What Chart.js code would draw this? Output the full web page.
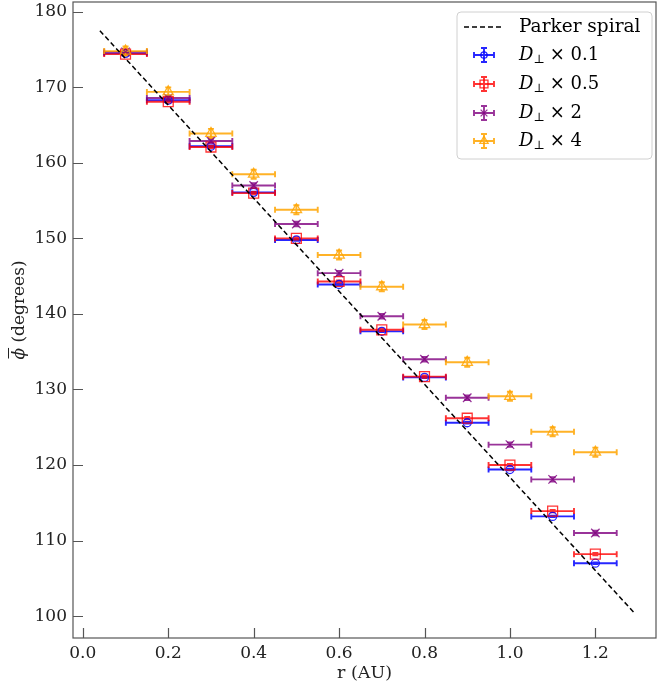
<!DOCTYPE html>
<html>
<head>
<meta charset="utf-8">
<script src="https://cdn.jsdelivr.net/npm/chart.js@4.4.1/dist/chart.umd.min.js"></script>
<style>
  html, body { margin: 0; padding: 0; background: #fff; }
  #wrap { width: 657px; height: 687px; }
</style>
</head>
<body>
<div id="wrap"><canvas id="phi-vs-r"></canvas></div>
<script>
// heliocentric distance of each sample (AU)
const radii = [0.1, 0.2, 0.3, 0.4, 0.5, 0.6, 0.7, 0.8, 0.9, 1.0, 1.1, 1.2]
const rErr = [0.05, 0.05, 0.05, 0.05, 0.05, 0.05, 0.05, 0.05, 0.05, 0.05, 0.05, 0.05]

// mean longitude (degrees) and its spread for each diffusion factor
const phiD01 = [174.5, 168.3, 162.2, 156.1, 149.8, 143.9, 137.7, 131.6, 125.6, 119.4, 113.2, 107.0]
const errD01 = [0.1, 0.1, 0.1, 0.1, 0.1, 0.1, 0.1, 0.1, 0.1, 0.1, 0.1, 0.1]
const phiD05 = [174.4, 168.1, 162.1, 156.0, 150.0, 144.3, 137.9, 131.7, 126.2, 120.0, 113.9, 108.2]
const errD05 = [0.15, 0.15, 0.15, 0.15, 0.15, 0.15, 0.15, 0.15, 0.15, 0.15, 0.15, 0.15]
const phiD2 = [174.7, 168.6, 162.9, 157.0, 151.9, 145.4, 139.7, 134.0, 128.9, 122.7, 118.1, 111.0]
const errD2 = [0.3, 0.3, 0.3, 0.3, 0.3, 0.3, 0.3, 0.3, 0.3, 0.3, 0.3, 0.3]
const phiD4 = [174.8, 169.4, 163.9, 158.5, 153.8, 147.8, 143.6, 138.6, 133.6, 129.1, 124.4, 121.7]
const errD4 = [0.6, 0.6, 0.6, 0.6, 0.6, 0.6, 0.6, 0.6, 0.6, 0.6, 0.6, 0.6]

// Parker spiral reference line
const parkerR = [0.04, 1.29]
const parkerPhi = [177.5, 100.5]

const xTicks = [0.0, 0.2, 0.4, 0.6, 0.8, 1.0, 1.2]
const yTicks = [100, 110, 120, 130, 140, 150, 160, 170, 180]

const SERIF = '"DejaVu Serif", "Liberation Serif", serif'

const series = [
  { name: '0.1', phi: phiD01, err: errD01, color: 'rgba(0,0,255,0.85)', style: 'circle', radius: 4 },
  { name: '0.5', phi: phiD05, err: errD05, color: 'rgba(255,0,0,0.8)', style: 'rect', radius: 7 },
  { name: '2', phi: phiD2, err: errD2, color: 'rgba(128,0,128,0.8)', style: 'crossRot', radius: 6 },
  { name: '4', phi: phiD4, err: errD4, color: 'rgba(255,165,0,0.85)', style: 'triangle', radius: 6 },
]

const toPoints = (xs, ys) => xs.map((x, i) => ({ x, y: ys[i] }))

const datasets = [
  {
    type: 'line',
    label: 'Parker spiral',
    data: toPoints(parkerR, parkerPhi),
    borderColor: '#000',
    borderWidth: 1.5,
    borderDash: [5, 3],
    pointRadius: 0,
    order: 0,
  },
  ...series.map((s, k) => ({
    type: 'scatter',
    label: 'D × ' + s.name,
    data: toPoints(radii, s.phi),
    yErr: s.err,
    xErr: rErr,
    borderColor: s.color,
    backgroundColor: 'rgba(0,0,0,0)',
    borderWidth: 1.3,
    pointStyle: s.style,
    pointRadius: s.radius,
    order: 4 - k,
  })),
]

function markerPath(ctx, style, x, y, r) {
  ctx.beginPath()
  if (style === 'circle') {
    ctx.arc(x, y, r, 0, Math.PI * 2)
  } else if (style === 'rect') {
    const h = r * Math.SQRT1_2
    ctx.rect(x - h, y - h, 2 * h, 2 * h)
  } else if (style === 'triangle') {
    const h = r * 0.866
    ctx.moveTo(x, y - r)
    ctx.lineTo(x + h, y + r / 2)
    ctx.lineTo(x - h, y + r / 2)
    ctx.closePath()
  } else {
    const h = r * Math.SQRT1_2
    ctx.moveTo(x - h, y - h); ctx.lineTo(x + h, y + h)
    ctx.moveTo(x + h, y - h); ctx.lineTo(x - h, y + h)
  }
  ctx.stroke()
}

function errorCross(ctx, x0, x1, y, yc0, yc1, xc, cap) {
  ctx.beginPath()
  ctx.moveTo(x0, y); ctx.lineTo(x1, y)
  ctx.moveTo(x0, y - cap); ctx.lineTo(x0, y + cap)
  ctx.moveTo(x1, y - cap); ctx.lineTo(x1, y + cap)
  ctx.moveTo(xc, yc0); ctx.lineTo(xc, yc1)
  ctx.moveTo(xc - cap, yc0); ctx.lineTo(xc + cap, yc0)
  ctx.moveTo(xc - cap, yc1); ctx.lineTo(xc + cap, yc1)
  ctx.stroke()
}

const errorBars = {
  id: 'errorBars',
  beforeDatasetsDraw(chart) {
    const { ctx, scales: { x, y } } = chart
    ctx.save()
    ctx.lineWidth = 1.9
    chart.data.datasets.forEach(ds => {
      if (!ds.yErr) return
      ctx.strokeStyle = ds.borderColor
      ds.data.forEach((p, i) => {
        const px = x.getPixelForValue(p.x)
        errorCross(ctx,
          x.getPixelForValue(p.x - ds.xErr[i]), x.getPixelForValue(p.x + ds.xErr[i]),
          y.getPixelForValue(p.y),
          y.getPixelForValue(p.y - ds.yErr[i]), y.getPixelForValue(p.y + ds.yErr[i]),
          px, 3)
      })
    })
    ctx.restore()
  },
}

// frame, inward ticks, y title and the legend box
const frame = {
  id: 'frame',
  afterDraw(chart) {
    const { ctx, chartArea: a, scales: { x, y } } = chart
    ctx.save()
    ctx.strokeStyle = '#555'
    ctx.lineWidth = 1.2
    ctx.strokeRect(a.left, a.top, a.right - a.left, a.bottom - a.top)
    ctx.beginPath()
    x.ticks.forEach((t, i) => {
      const px = Math.round(x.getPixelForTick(i)) + 0.5
      ctx.moveTo(px, a.bottom); ctx.lineTo(px, a.bottom - 10)
    })
    y.ticks.forEach((t, i) => {
      const py = Math.round(y.getPixelForTick(i)) + 0.5
      ctx.moveTo(a.left, py); ctx.lineTo(a.left + 10, py)
    })
    ctx.stroke()

    // y title: phi with an overbar, then the unit
    ctx.save()
    ctx.translate(24, 310)
    ctx.rotate(-Math.PI / 2)
    ctx.fillStyle = '#222'
    ctx.textBaseline = 'alphabetic'
    ctx.font = 'italic 17px ' + SERIF
    const phiW = ctx.measureText('\u03D5').width
    ctx.font = '17px ' + SERIF
    const unitW = ctx.measureText(' (degrees)').width
    const start = -(phiW + unitW) / 2
    ctx.font = 'italic 17px ' + SERIF
    ctx.fillText('\u03D5', start, 0)
    ctx.font = '17px ' + SERIF
    ctx.fillText(' (degrees)', start + phiW, 0)
    ctx.strokeStyle = '#222'
    ctx.lineWidth = 1
    ctx.beginPath()
    ctx.moveTo(start + 1, -15.5); ctx.lineTo(start + phiW, -15.5)
    ctx.stroke()
    ctx.restore()

    // legend
    const bx = 457, by = 12, bw = 195, bh = 147
    ctx.beginPath()
    ctx.roundRect(bx, by, bw, bh, 4)
    ctx.fillStyle = 'rgba(255,255,255,0.8)'
    ctx.fill()
    ctx.strokeStyle = '#d0d0d0'
    ctx.lineWidth = 1
    ctx.stroke()

    const hc = 484, tx = 519
    const rowY = [27, 55, 84, 113, 141]
    ctx.strokeStyle = '#000'
    ctx.lineWidth = 1.5
    ctx.setLineDash([5, 3])
    ctx.beginPath()
    ctx.moveTo(464, rowY[0]); ctx.lineTo(503, rowY[0])
    ctx.stroke()
    ctx.setLineDash([])

    ctx.fillStyle = '#000'
    ctx.textBaseline = 'middle'
    ctx.font = '18.5px ' + SERIF
    ctx.fillText('Parker spiral', tx, rowY[0])

    series.forEach((s, k) => {
      const ry = rowY[k + 1]
      ctx.strokeStyle = s.color
      ctx.lineWidth = 1.9
      errorCross(ctx, hc - 10, hc + 10, ry, ry - 7, ry + 7, hc, 3)
      ctx.lineWidth = 1.3
      markerPath(ctx, s.style, hc, ry, s.radius * 0.8)

      let cx = tx
      ctx.fillStyle = '#000'
      ctx.font = 'italic 18px ' + SERIF
      ctx.fillText('D', cx, ry)
      cx += ctx.measureText('D').width
      ctx.font = '12px ' + SERIF
      ctx.fillText('\u22A5', cx, ry + 5)
      cx += ctx.measureText('\u22A5').width + 5
      ctx.font = '18px ' + SERIF
      ctx.fillText('\u00D7 ' + s.name, cx, ry)
    })
    ctx.restore()
  },
}

new Chart(document.getElementById('phi-vs-r'), {
  data: { datasets },
  plugins: [errorBars, frame],
  options: {
    responsive: true,
    maintainAspectRatio: false,
    animation: false,
    layout: { autoPadding: false, padding: { top: 2, right: 1, left: 0, bottom: 0 } },
    plugins: { legend: { display: false }, tooltip: { enabled: false } },
    scales: {
      x: {
        type: 'linear',
        min: -0.023,
        max: 1.342,
        afterFit: s => { s.height = 49; s.paddingLeft = 0; s.paddingRight = 0 },
        afterBuildTicks: s => { s.ticks = xTicks.map(v => ({ value: v })) },
        grid: { drawOnChartArea: false, drawTicks: false },
        border: { display: false },
        ticks: {
          padding: 5,
          color: '#222',
          font: { family: SERIF, size: 17 },
          callback: v => v.toFixed(1),
        },
        title: {
          display: true,
          text: 'r (AU)',
          color: '#222',
          font: { family: SERIF, size: 17.5 },
          padding: { top: 0, bottom: 3 },
        },
      },
      y: {
        type: 'linear',
        min: 97.1,
        max: 181.3,
        afterFit: s => { s.width = 73; s.paddingTop = 0; s.paddingBottom = 0 },
        afterBuildTicks: s => { s.ticks = yTicks.map(v => ({ value: v })) },
        grid: { drawOnChartArea: false, drawTicks: false },
        border: { display: false },
        ticks: {
          padding: 6,
          color: '#222',
          font: { family: SERIF, size: 17 },
        },
      },
    },
  },
})
</script>
</body>
</html>
